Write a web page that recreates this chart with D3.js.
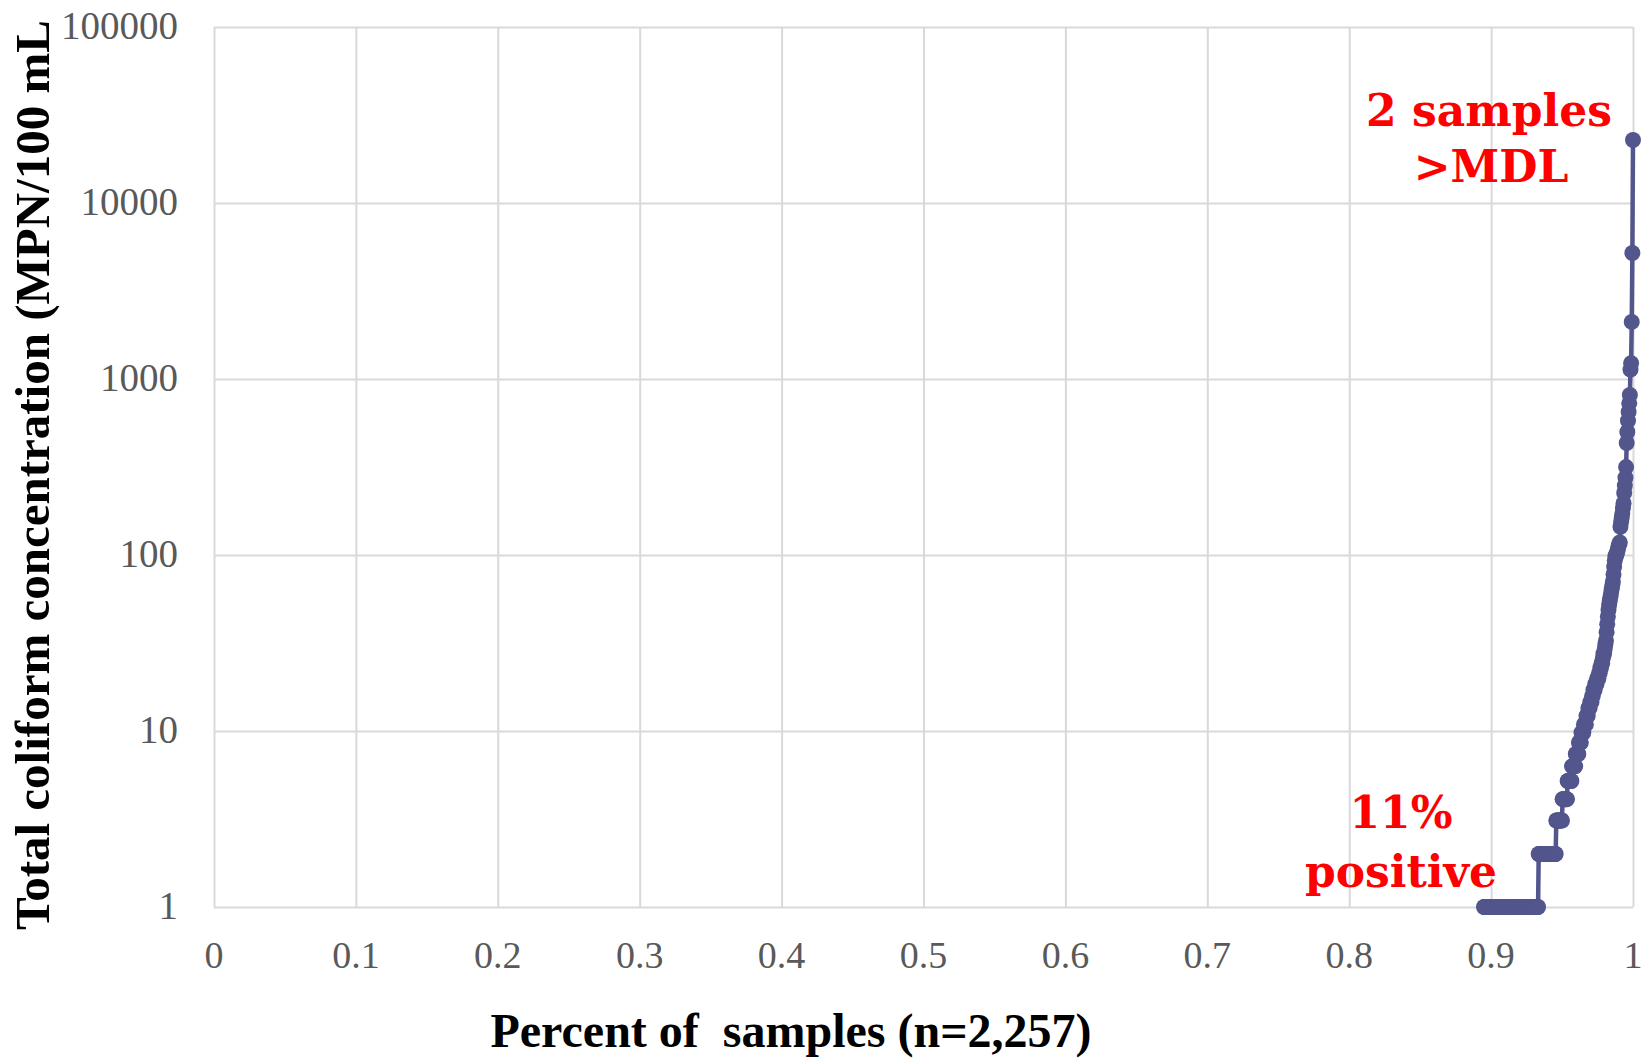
<!DOCTYPE html>
<html>
<head>
<meta charset="utf-8">
<script src="https://cdn.jsdelivr.net/npm/d3@7"></script>
<style>
  html, body { margin: 0; padding: 0; background: #fff; }
  svg { display: block; }
</style>
</head>
<body>
<script>
const width = 1646;
const height = 1061;
const margin = { top: 27, right: 13, bottom: 154, left: 214 };

// samples below detection are not drawn on the log axis
const nSamples = 2257;
const nonDetects = 2019;

// positive results (MPN/100 mL) and how many samples had each value
const mpnValues = [1, 2, 3.1, 4.1, 5.2, 6.3, 7.4, 8.6, 9.8, 10.9, 12.2, 13.5, 14.6, 15.8,
  17.1, 18.5, 19.9, 21.3, 22.8, 24.3, 25.9, 27.5, 29.2, 30.9, 32.7, 36.4, 40.4, 44.8,
  48.7, 52, 54.8, 57.6, 60.5, 63.6, 66.8, 70.3, 77.6, 85.7, 93.2, 98.7, 101.7, 104.3,
  108.1, 112.4, 115.3, 117.8, 144.5, 153.9, 162.4, 172.3, 185, 197, 225, 248, 275,
  316, 433, 500, 580, 650, 727, 811, 1130, 1230, 2110, 5200, 22800];
const sampleCounts = [87, 28, 10, 8, 7, 6, 5, 4, 4, 4, 3, 3, 3, 2,
  3, 3, 3, 2, 2, 2, 1, 2, 1, 1, 1, 1, 1, 1,
  1, 1, 1, 1, 1, 1, 1, 1, 1, 1, 1, 2, 1, 1,
  1, 1, 1, 1, 1, 1, 1, 1, 1, 1, 1, 1, 1,
  1, 1, 1, 1, 1, 1, 1, 1, 1, 1, 1, 1];

const xTicks = [0, 0.1, 0.2, 0.3, 0.4, 0.5, 0.6, 0.7, 0.8, 0.9, 1];
const xTickLabels = ["0", "0.1", "0.2", "0.3", "0.4", "0.5", "0.6", "0.7", "0.8", "0.9", "1"];
const yTicks = [1, 10, 100, 1000, 10000, 100000];
const yTickLabels = ["1", "10", "100", "1000", "10000", "100000"];

// one point per sample, sorted, x = rank / n
const points = [];
let rank = nonDetects;
mpnValues.forEach((v, i) => {
  for (let k = 0; k < sampleCounts[i]; k++) {
    rank += 1;
    points.push({ p: rank / nSamples, v: v });
  }
});

const svg = d3.select("body").append("svg")
  .attr("width", width)
  .attr("height", height);

const x = d3.scaleLinear()
  .domain([0, 1])
  .range([margin.left, width - margin.right]);

const y = d3.scaleLog()
  .domain([1, 100000])
  .range([height - margin.bottom, margin.top]);

const gridColor = "#d9d9d9";
const tickFont = "'Liberation Serif', 'Times New Roman', serif";

// gridlines
svg.append("g")
  .attr("transform", `translate(0,${height - margin.bottom})`)
  .call(d3.axisBottom(x).tickValues(xTicks).tickSize(-(height - margin.top - margin.bottom)).tickFormat(""))
  .call(g => g.select(".domain").remove())
  .call(g => g.selectAll("line").attr("stroke", gridColor).attr("stroke-width", 2));

svg.append("g")
  .attr("transform", `translate(${margin.left},0)`)
  .call(d3.axisLeft(y).tickValues(yTicks).tickSize(-(width - margin.left - margin.right)).tickFormat(""))
  .call(g => g.select(".domain").remove())
  .call(g => g.selectAll("line").attr("stroke", gridColor).attr("stroke-width", 2));

// tick labels
svg.append("g")
  .selectAll("text")
  .data(xTicks)
  .join("text")
  .attr("x", d => x(d))
  .attr("y", 968)
  .attr("text-anchor", "middle")
  .attr("font-family", tickFont)
  .attr("font-size", 38)
  .attr("fill", "#595959")
  .text((d, i) => xTickLabels[i]);

svg.append("g")
  .selectAll("text")
  .data(yTicks)
  .join("text")
  .attr("x", 178)
  .attr("y", d => y(d) + 12)
  .attr("text-anchor", "end")
  .attr("font-family", tickFont)
  .attr("font-size", 39)
  .attr("fill", "#595959")
  .text((d, i) => yTickLabels[i]);

// series
const lineColor = "#53568c";
const line = d3.line()
  .x(d => x(d.p))
  .y(d => y(d.v));

svg.append("path")
  .datum(points)
  .attr("d", line)
  .attr("fill", "none")
  .attr("stroke", lineColor)
  .attr("stroke-width", 4.5)
  .attr("stroke-linejoin", "round");

svg.append("g")
  .selectAll("circle")
  .data(points)
  .join("circle")
  .attr("cx", d => x(d.p))
  .attr("cy", d => y(d.v))
  .attr("r", 8)
  .attr("fill", lineColor);

// axis titles
svg.append("text")
  .attr("x", 791)
  .attr("y", 1047)
  .attr("text-anchor", "middle")
  .attr("font-family", tickFont)
  .attr("font-weight", "bold")
  .attr("font-size", 48)
  .attr("fill", "#000")
  .attr("xml:space", "preserve")
  .style("white-space", "pre")
  .text("Percent of  samples (n=2,257)");

svg.append("text")
  .attr("transform", "translate(49,930) rotate(-90)")
  .attr("text-anchor", "start")
  .attr("font-family", tickFont)
  .attr("font-weight", "bold")
  .attr("font-size", 49)
  .attr("fill", "#000")
  .text("Total coliform concentration (MPN/100 mL");

// annotations
const noteFont = "'DejaVu Serif', Georgia, serif";
const notes = [
  { text: "2 samples", x: 1489, y: 126 },
  { text: ">MDL", x: 1491, y: 182 },
  { text: "11%", x: 1401, y: 828 },
  { text: "positive", x: 1401, y: 887 }
];

svg.append("g")
  .selectAll("text")
  .data(notes)
  .join("text")
  .attr("x", d => d.x)
  .attr("y", d => d.y)
  .attr("text-anchor", "middle")
  .attr("font-family", noteFont)
  .attr("font-weight", "bold")
  .attr("font-size", 44)
  .attr("fill", "#ff0000")
  .text(d => d.text);
</script>
</body>
</html>
